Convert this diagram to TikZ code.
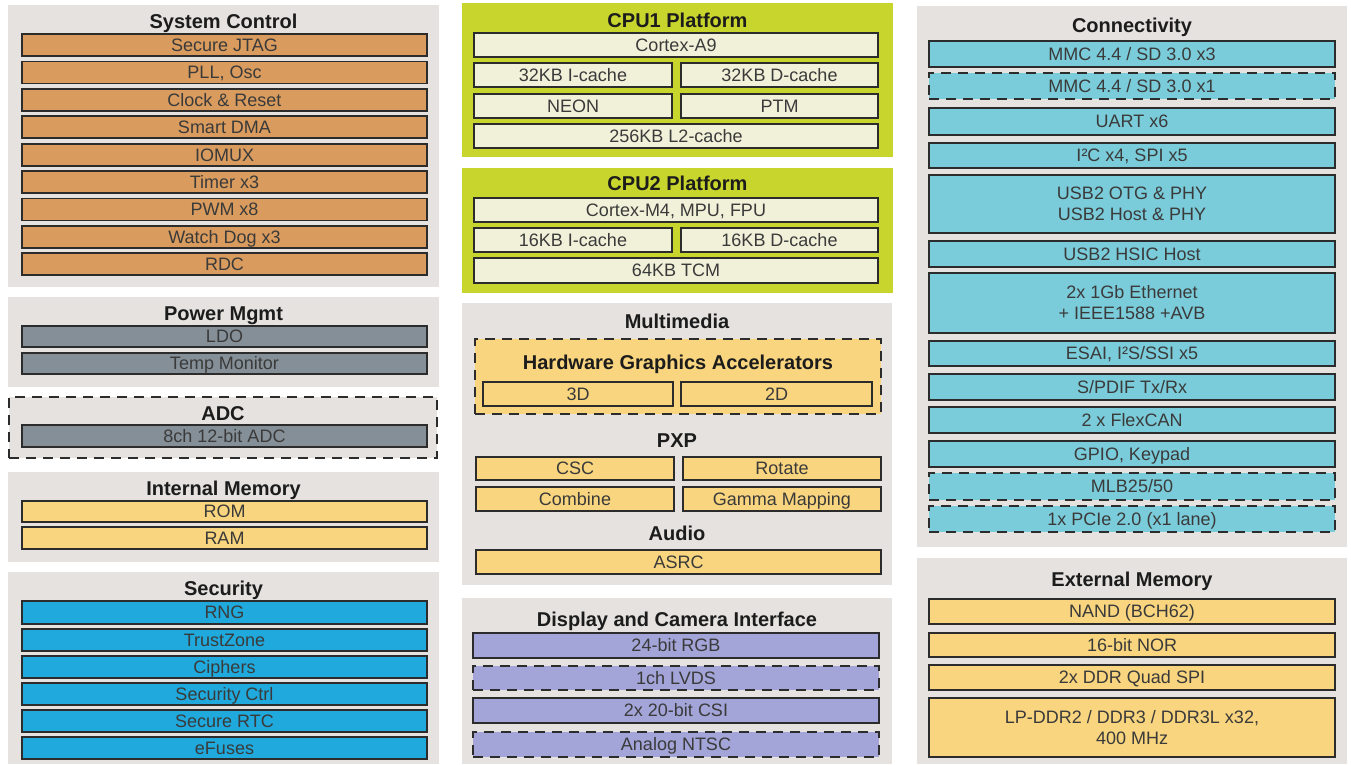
\documentclass[tikz,border=0pt]{standalone}
\usepackage{fontspec}
\setmainfont{Liberation Sans}
\definecolor{panelgray}{HTML}{E5E2DF}
\definecolor{cpugreen}{HTML}{C8D52C}
\definecolor{cpucream}{HTML}{F1F1DA}
\definecolor{sysorange}{HTML}{D99C5E}
\definecolor{pwrgray}{HTML}{858F97}
\definecolor{memyellow}{HTML}{F8D57E}
\definecolor{secblue}{HTML}{1FA9DC}
\definecolor{concyan}{HTML}{7BCCDA}
\definecolor{dispurple}{HTML}{A3A4D8}
\definecolor{edge}{HTML}{2C2C2C}
\definecolor{ink}{HTML}{3A3A3A}
\definecolor{titleink}{HTML}{1C1C1C}
\tikzset{
  panel/.style={fill=panelgray, draw=none, inner sep=0pt},
  cpupanel/.style={fill=cpugreen, draw=none, inner sep=0pt},
  ttl/.style={font=\fontsize{20}{24}\selectfont\bfseries, text=titleink,
    inner sep=0pt, text height=14.3pt, text depth=0pt},
  unit/.style={draw=edge, line width=1.8pt, inner sep=0pt,
    font=\fontsize{18}{21}\selectfont, text=ink, text height=12.9pt, text depth=0pt},
  unittwo/.style={draw=edge, line width=1.8pt, inner sep=0pt,
    font=\fontsize{18}{21}\selectfont, text=ink, align=center},
  optional/.style={dash pattern=on 10pt off 7pt},
  orangeunit/.style={unit, fill=sysorange},
  grayunit/.style={unit, fill=pwrgray},
  yellowunit/.style={unit, fill=memyellow},
  blueunit/.style={unit, fill=secblue},
  cyanunit/.style={unit, fill=concyan},
  purpleunit/.style={unit, fill=dispurple},
  creamunit/.style={unit, fill=cpucream},
}
% \blk{name}{x1}{y1}{x2}{y2}{style}{text}
\newcommand\blk[7]{%
  \node[#6, minimum width={(#4)-(#2)}, minimum height={(#5)-(#3)}]
    (#1) at ({((#2)+(#4))/2},{((#3)+(#5))/2}) {#7};}
\begin{document}
\begin{tikzpicture}[x=1pt, y=-1pt]
\useasboundingbox (0,0) rectangle (1351,764);
\fill[white] (0,0) rectangle (1351,764);

% ---------------- left column ----------------
\blk{sysctl}{8}{5}{439}{287}{panel}{}
\node[ttl] (sysctl-t) at (223.5,21) {System Control};
\blk{jtag}{22}{34}{427}{56}{orangeunit}{Secure JTAG}
\blk{pll}{22}{61.4}{427}{83.4}{orangeunit}{PLL, Osc}
\blk{clk}{22}{88.8}{427}{110.8}{orangeunit}{Clock \& Reset}
\blk{sdma}{22}{116.2}{427}{138.2}{orangeunit}{Smart DMA}
\blk{iomux}{22}{143.6}{427}{165.6}{orangeunit}{IOMUX}
\blk{timer}{22}{171}{427}{193}{orangeunit}{Timer x3}
\blk{pwm}{22}{198.4}{427}{220.4}{orangeunit}{PWM x8}
\blk{wdog}{22}{225.8}{427}{247.8}{orangeunit}{Watch Dog x3}
\blk{rdc}{22}{253.2}{427}{275.2}{orangeunit}{RDC}

\blk{pwr}{8}{297}{439}{387}{panel}{}
\node[ttl] (pwr-t) at (223.5,313) {Power Mgmt};
\blk{ldo}{22}{326}{427}{347}{grayunit}{LDO}
\blk{temp}{22}{353}{427}{374}{grayunit}{Temp Monitor}

\blk{adc}{9}{397}{437}{458}{panel, draw=edge, line width=1.8pt, optional}{}
\node[ttl] (adc-t) at (223,413) {ADC};
\blk{adc8}{22}{425}{427}{447}{grayunit}{8ch 12-bit ADC}

\blk{imem}{8}{472}{439}{562}{panel}{}
\node[ttl] (imem-t) at (223.5,488) {Internal Memory};
\blk{rom}{22}{501}{427}{522}{yellowunit}{ROM}
\blk{ram}{22}{527}{427}{549}{yellowunit}{RAM}

\blk{sec}{8}{572}{439}{764}{panel}{}
\node[ttl] (sec-t) at (223.5,588) {Security};
\blk{rng}{22}{601}{427}{624}{blueunit}{RNG}
\blk{tz}{22}{629}{427}{651}{blueunit}{TrustZone}
\blk{ciph}{22}{656}{427}{678}{blueunit}{Ciphers}
\blk{secctl}{22}{683}{427}{705}{blueunit}{Security Ctrl}
\blk{rtc}{22}{710}{427}{732}{blueunit}{Secure RTC}
\blk{efuse}{22}{737}{427}{759}{blueunit}{eFuses}

% ---------------- middle column ----------------
\blk{cpu1}{462}{3}{893}{157}{cpupanel}{}
\node[ttl] (cpu1-t) at (677.5,20) {CPU1 Platform};
\blk{a9}{474}{33}{878}{57}{creamunit}{Cortex-A9}
\blk{ic32}{474}{63}{672}{87}{creamunit}{32KB I-cache}
\blk{dc32}{681}{63}{878}{87}{creamunit}{32KB D-cache}
\blk{neon}{474}{94}{672}{118}{creamunit}{NEON}
\blk{ptm}{681}{94}{878}{118}{creamunit}{PTM}
\blk{l2}{474}{124}{878}{148}{creamunit}{256KB L2-cache}

\blk{cpu2}{462}{168}{893}{293}{cpupanel}{}
\node[ttl] (cpu2-t) at (677.5,183) {CPU2 Platform};
\blk{m4}{474}{198}{878}{222}{creamunit}{Cortex-M4, MPU, FPU}
\blk{ic16}{474}{228}{672}{252}{creamunit}{16KB I-cache}
\blk{dc16}{681}{228}{878}{252}{creamunit}{16KB D-cache}
\blk{tcm}{474}{258}{878}{283}{creamunit}{64KB TCM}

\blk{mm}{462}{303}{892}{585}{panel}{}
\node[ttl] (mm-t) at (677,321) {Multimedia};
\blk{hga}{475}{339}{881}{414}{fill=memyellow, draw=edge, line width=1.8pt, optional, inner sep=0pt}{}
\node[ttl] (hga-t) at (678,362) {Hardware Graphics Accelerators};
\blk{g3d}{483}{382}{673}{406}{yellowunit}{3D}
\blk{g2d}{681}{382}{872}{406}{yellowunit}{2D}
\node[ttl] (pxp-t) at (677,440) {PXP};
\blk{csc}{476}{457}{674}{480}{yellowunit}{CSC}
\blk{rot}{683}{457}{881}{480}{yellowunit}{Rotate}
\blk{comb}{476}{487}{674}{511}{yellowunit}{Combine}
\blk{gamma}{683}{487}{881}{511}{yellowunit}{Gamma Mapping}
\node[ttl] (aud-t) at (677,533) {Audio};
\blk{asrc}{476}{550}{881}{574}{yellowunit}{ASRC}

\blk{disp}{462}{598}{892}{764}{panel}{}
\node[ttl] (disp-t) at (677,619) {Display and Camera Interface};
\blk{rgb}{473}{633}{879}{658}{purpleunit}{24-bit RGB}
\blk{lvds}{473}{666}{879}{690}{purpleunit, optional}{1ch LVDS}
\blk{csi}{473}{698}{879}{723}{purpleunit}{2x 20-bit CSI}
\blk{ntsc}{473}{732}{879}{757}{purpleunit, optional}{Analog NTSC}

% ---------------- right column ----------------
\blk{conn}{917}{6}{1347}{547}{panel}{}
\node[ttl] (conn-t) at (1132,25) {Connectivity};
\blk{mmc3}{929}{41}{1335}{67}{cyanunit}{MMC 4.4 / SD 3.0 x3}
\blk{mmc1}{929}{73}{1335}{99}{cyanunit, optional}{MMC 4.4 / SD 3.0 x1}
\blk{uart}{929}{108}{1335}{135}{cyanunit}{UART x6}
\blk{i2c}{929}{143}{1335}{168}{cyanunit}{I²C x4, SPI x5}
\blk{usb}{929}{175}{1335}{233}{unittwo, fill=concyan}{USB2 OTG \& PHY\\USB2 Host \& PHY}
\blk{hsic}{929}{241}{1335}{267}{cyanunit}{USB2 HSIC Host}
\blk{eth}{929}{273}{1335}{333}{unittwo, fill=concyan}{2x 1Gb Ethernet\\+ IEEE1588 +AVB}
\blk{esai}{929}{341}{1335}{366}{cyanunit}{ESAI, I²S/SSI x5}
\blk{spdif}{929}{374}{1335}{400}{cyanunit}{S/PDIF Tx/Rx}
\blk{can}{929}{407}{1335}{433}{cyanunit}{2 x FlexCAN}
\blk{gpio}{929}{441}{1335}{467}{cyanunit}{GPIO, Keypad}
\blk{mlb}{929}{473}{1335}{500}{cyanunit, optional}{MLB25/50}
\blk{pcie}{929}{506}{1335}{532}{cyanunit, optional}{1x PCIe 2.0 (x1 lane)}

\blk{emem}{917}{558}{1347}{764}{panel}{}
\node[ttl] (emem-t) at (1132,579) {External Memory};
\blk{nand}{929}{599}{1335}{624}{yellowunit}{NAND (BCH62)}
\blk{nor}{929}{633}{1335}{657}{yellowunit}{16-bit NOR}
\blk{qspi}{929}{665}{1335}{690}{yellowunit}{2x DDR Quad SPI}
\blk{ddr}{929}{698}{1335}{757}{unittwo, fill=memyellow}{LP-DDR2 / DDR3 / DDR3L x32,\\400 MHz}
\end{tikzpicture}
\end{document}
